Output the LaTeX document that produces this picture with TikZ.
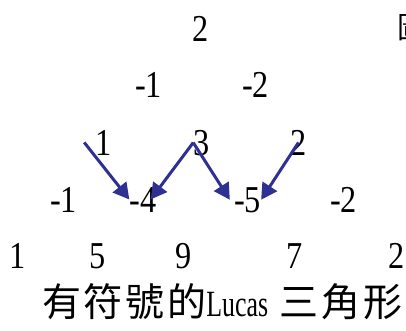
\documentclass[tikz,border=0pt]{standalone}
\usepackage{fontspec}
\newfontfamily\numfont{Liberation Serif}[FakeStretch=0.85]
\newfontfamily\capfont{Liberation Serif}[FakeStretch=0.7]
\newfontfamily\cjk{Noto Sans CJK TC}
\usetikzlibrary{arrows.meta}
\definecolor{arrowblue}{RGB}{46,49,146}
\tikzset{
  num/.style={inner sep=0pt, anchor=base, font=\numfont\fontsize{38}{40}\selectfont},
  diff/.style={draw=arrowblue, line width=3pt, -{Triangle[length=16pt,width=17pt]}}
}
\begin{document}
\begin{tikzpicture}[x=1pt,y=-1pt]

        % Picture size (pixels of the original)
        \useasboundingbox (0,0) rectangle (406,331);

        % Row 1
        \node[num] (r1a) at (201,42) {2};

        % Row 2
        \node[num] (r2a) at (148.5,98) {-1};
        \node[num] (r2b) at (255.5,98) {-2};

        % Row 3
        \foreach \x/\t/\n in {103.5/1/a, 201.5/3/b, 298.5/2/c} {
            \node[num] (r3\n) at (\x,155) {\t};
        }

        % Row 4
        \foreach \x/\t/\n in {63.5/-1/a, 143/-4/b, 247.5/-5/c, 343.5/-2/d} {
            \node[num] (r4\n) at (\x,212) {\t};
        }

        % Row 5
        \foreach \x/\t/\n in {17.5/1/a, 97.5/5/b, 183.5/9/c, 294.5/7/d, 396.5/2/e} {
            \node[num] (r5\n) at (\x,268) {\t};
        }

        % Caption
        \node[anchor=base west, inner sep=0pt] (cap) at (42,316)
            {\cjk\fontsize{39}{40}\selectfont\addfontfeature{LetterSpace=7}有符號的{\capfont\fontsize{37}{38}\selectfont Lucas} 三角形};

        % Cut-off glyph at the right edge
        \node[anchor=west, inner sep=0pt] (cut) at (397,28) {\cjk\fontsize{30}{32}\selectfont 圖};

        % Arrows
        \draw[diff] ([xshift=-11pt]r3a.west) -- (r4b.west);
        \draw[diff] (r3b.west) -- ([xshift=-6pt]r4b.east);
        \draw[diff] (r3b.west) -- ([xshift=-4pt]r4c.west);
        \draw[diff] (r3c.center) -- (r4c.east);

\end{tikzpicture}
\end{document}
